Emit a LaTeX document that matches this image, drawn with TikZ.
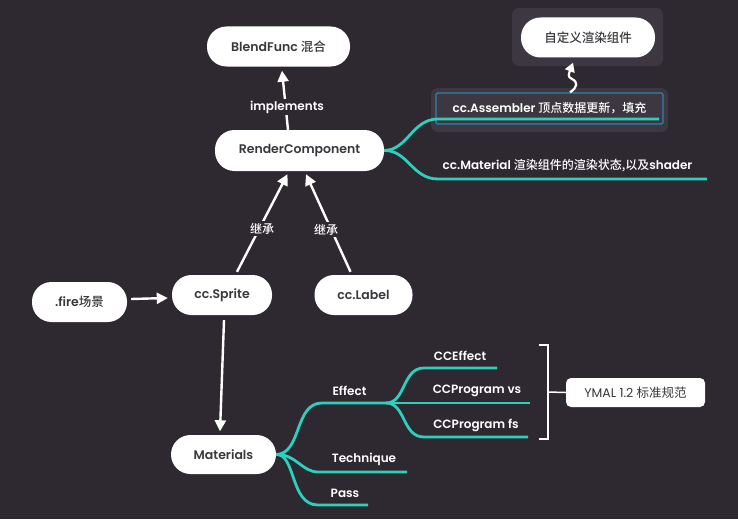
\documentclass[tikz,border=0pt]{standalone}
\usepackage{fontspec}
\setmainfont{Poppins}[BoldFont={* SemiBold}]
\newfontfamily\cjk{Noto Sans CJK SC}[BoldFont={* Medium}]
\usetikzlibrary{arrows.meta,calc}
\definecolor{bg}{RGB}{46,40,49}
\definecolor{boxbg}{RGB}{60,55,64}
\definecolor{nodetxt}{RGB}{58,56,60}
\definecolor{tealc}{RGB}{44,208,188}
\definecolor{bluec}{RGB}{52,130,170}
\tikzset{
  pill/.style={fill=white, rounded corners=19.5pt, minimum height=40pt, inner sep=0pt,
    text=nodetxt, font=\bfseries\fontsize{12.5}{14}\selectfont},
  lbl/.style={text=white, inner sep=1.5pt, font=\bfseries\fontsize{12}{14}\selectfont},
  elbl/.style={fill=bg, text=white, inner sep=2pt, font=\bfseries\fontsize{12}{14}\selectfont},
  arr/.style={draw=white, line width=2.4pt, -{Triangle[width=11pt,length=11pt]}},
  br/.style={draw=tealc, line width=2.8pt},
}
\begin{document}
\begin{tikzpicture}[x=1pt,y=-1pt]
\fill[bg] (0,0) rectangle (738,519);
\useasboundingbox (0,0) rectangle (738,519);

% background panels
\fill[boxbg, rounded corners=7pt] (512,8) rectangle (663,66);
\fill[boxbg, rounded corners=7pt] (431,88) rectangle (668,132);

% nodes
\node[pill, minimum width=143pt, minimum height=40pt] (blend) at (278.5,46.5) {BlendFunc {\cjk 混合}};
\node[pill, minimum width=134pt, minimum height=40pt] (custom) at (588,37.5) {{\cjk 自定义渲染组件}};
\node[pill, minimum width=169pt, minimum height=41pt] (rc) at (299.5,150.5) {RenderComponent};
\node[pill, minimum width=95pt] (fire) at (79.5,302) {.fire{\cjk 场景}};
\node[pill, minimum width=100pt] (sprite) at (222,295) {cc.Sprite};
\node[pill, minimum width=98pt] (label) at (363.5,295) {cc.Label};
\node[pill, minimum width=105pt, minimum height=39pt] (mat) at (223.5,454.5) {Materials};

% assembler box
\node[draw=bluec, line width=1.3pt, rounded corners=1.5pt, minimum width=227pt, minimum height=31pt,
      inner sep=0pt, text=white, font=\bfseries\fontsize{12}{14}\selectfont] (asm) at (549.5,108.5)
      {cc.Assembler {\cjk 顶点数据更新，填充}};
\node[lbl] (mtl) at (567.5,166) {cc.Material {\cjk 渲染组件的渲染状态,以及}shader};

% RenderComponent branches
\coordinate (asmend) at (659,119);
\coordinate (mtlend) at (707,179);
\draw[br] (rc.east) .. controls (408,150) and (412,119) .. (438,119) -- (asmend);
\draw[br] (rc.east) .. controls (408,150) and (412,179) .. (438,179) -- (mtlend);

% arrows
\draw[arr] ($(rc.north)+(-11.5,0)$) -- ($(blend.south)+(3.5,4)$);
\node[elbl] (impl) at (287,107) {implements};
\draw[arr] ($(sprite.north)+(15,-3)$) -- ($(rc.south)+(-12,3)$);
\draw[arr] ($(label.north)+(-13,-3)$) -- ($(rc.south)+(6.5,3)$);
\node[elbl] (inh1) at (262,228.5) {{\cjk 继承}};
\node[elbl] (inh2) at (326,229.5) {{\cjk 继承}};
\draw[arr] ($(fire.east)+(4,-3)$) -- ($(sprite.west)+(-4,3)$);
\draw[arr] ($(sprite.south)+(2,5)$) -- ($(mat.north)+(-3.5,-3.5)$);

% wavy arrow
\draw[draw=white, line width=2.2pt, -{Triangle[width=10pt,length=9pt]}]
  ($(asm.north)+(20.5,0)$) .. controls (578,87) and (578,82) .. (572,79)
  .. controls (567,77) and (569,73) .. ($(custom.south)+(-15,5)$);

% Materials branches
\node[lbl] (effect) at (349.5,391) {Effect};
\node[lbl] (tech) at (364,459) {Technique};
\node[lbl] (pass) at (345,493) {Pass};
\node[lbl] (cce) at (460,356) {CCEffect};
\node[lbl] (ccvs) at (477,391) {CCProgram vs};
\node[lbl] (ccfs) at (476,425) {CCProgram fs};
\coordinate (fork) at (386,403);
\draw[br] (mat.east) .. controls (302,454) and (294,403) .. (322,403) -- (fork);
\draw[br] (mat.east) .. controls (296,454) and (302,472) .. (318,472) -- (407,472);
\draw[br] (mat.east) .. controls (296,454) and (290,505) .. (318,505) -- (368,505);
\draw[br] (fork) .. controls (406,403) and (402,368) .. (424,368) -- (497,368);
\draw[br] (fork) -- (530,403);
\draw[br] (fork) .. controls (406,403) and (402,437) .. (424,437) -- (528,437);

% bracket and YMAL
\node[fill=white, rounded corners=5pt, minimum width=139pt, minimum height=29pt, inner sep=0pt,
      text=nodetxt, font=\fontsize{12.5}{14}\selectfont] (ymal) at (635.5,392.5) {YMAL 1.2 {\cjk 标准规范}};
\draw[white, line width=1.5pt] (539,345) -- (548,345) -- (548,439) -- (539,439);
\draw[white, line width=1.5pt] (548,392) -- (ymal.west);
\end{tikzpicture}
\end{document}
